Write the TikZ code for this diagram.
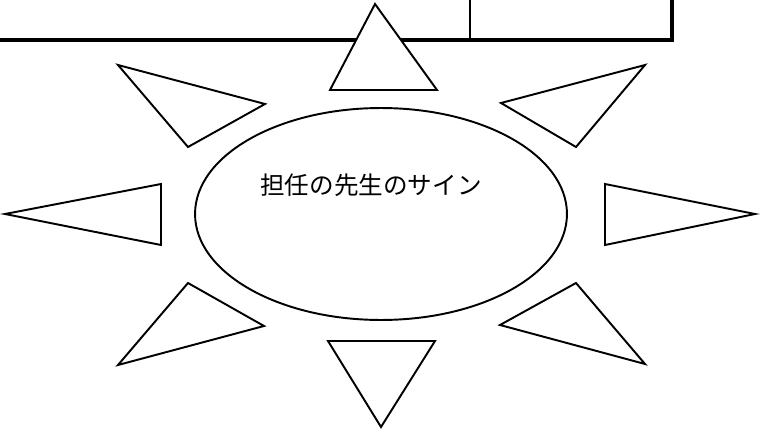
\documentclass[tikz,border=0pt]{standalone}
\usepackage{fontspec}
\newfontfamily\jpfont{Noto Sans CJK JP}
\usepackage{tikz}
\usetikzlibrary{calc,positioning,shapes.geometric}
\tikzset{
    frameline/.style={draw, line width=2.3pt},
    thinline/.style={draw, line width=0.8pt},
    ray/.style={draw, fill=white, line width=1.1pt, line join=miter},
    signbox/.style={
      ellipse,
      draw=black, line width=1.1pt,
      minimum width=7.44cm, 
      minimum height=4.24cm,
      inner sep=0pt},
    signtext/.style={font=\jpfont\fontsize{14pt}{16pt}\selectfont, inner sep=0pt},
}

\begin{document}
\begin{tikzpicture}[x=0.02cm,y=-0.02cm]
        \useasboundingbox (0,0) rectangle (760,429);
        % frame at the top
        \draw[frameline] (0,40) -- (672,40) -- (672,0);
        \draw[thinline] (470,0) -- (470,40);

        % the rays round the sign
        \draw[ray] (375,4) -- (437,90) -- (330,90) -- cycle;
        \draw[ray] (118,65) -- (265,104) -- (188,147) -- cycle;
        \draw[ray] (645,65) -- (501,103) -- (576,147) -- cycle;
        \draw[ray] (5,214) -- (161,184) -- (161,245) -- cycle;
        \draw[ray] (755,214) -- (605,184) -- (605,245) -- cycle;
        \draw[ray] (118,365) -- (188,283) -- (264,326) -- cycle;
        \draw[ray] (645,364) -- (576,283) -- (500,325) -- cycle;
        \draw[ray] (328,341) -- (435,341) -- (381,427) -- cycle;

        \node[signbox] (sign) at (381,214) {};
        \node[signtext] (signLabel) at ($(sign.center)+(-10,-29)$) {担任の先生のサイン};
    \end{tikzpicture}
\end{document}
